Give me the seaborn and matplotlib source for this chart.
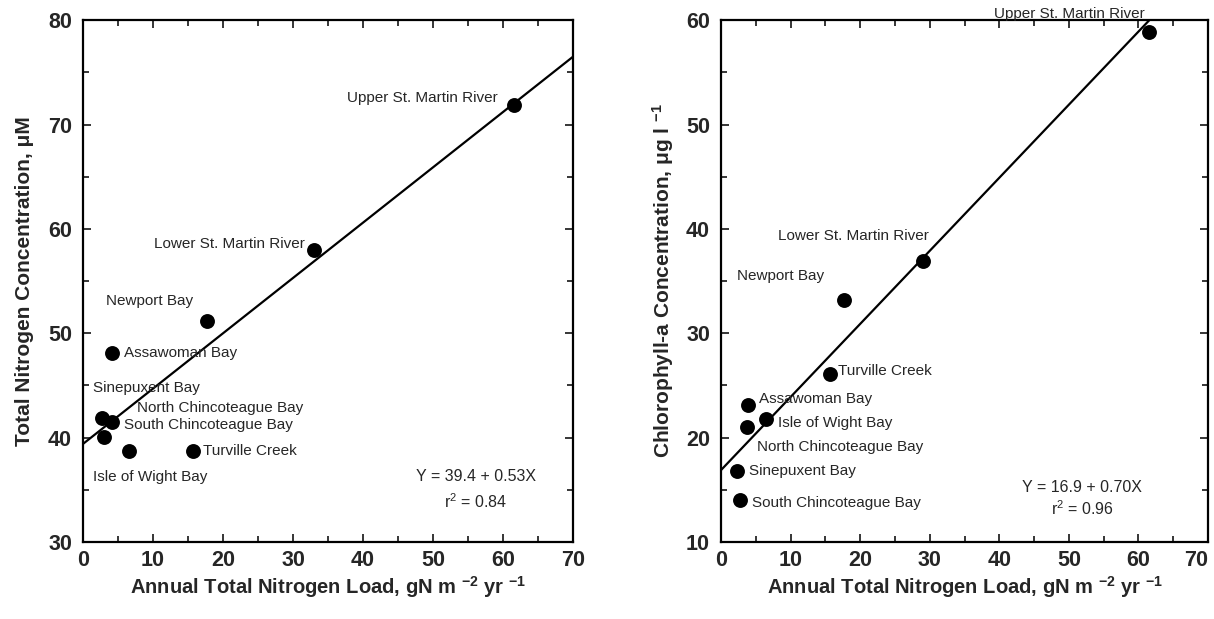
import numpy as np
import pandas as pd
import matplotlib
matplotlib.use("Agg")
import matplotlib.pyplot as plt
from matplotlib.ticker import MultipleLocator
import seaborn as sns

sns.set_style("ticks")
plt.rcParams['font.family'] = ['Liberation Sans', 'DejaVu Sans']
plt.rcParams['mathtext.fontset'] = 'custom'
plt.rcParams['mathtext.rm'] = 'Liberation Sans'
plt.rcParams['mathtext.bf'] = 'Liberation Sans:bold'
plt.rcParams['mathtext.default'] = 'rm'

# left panel: total nitrogen
tn_sites = ['Upper St. Martin River', 'Lower St. Martin River', 'Newport Bay',
            'Assawoman Bay', 'Sinepuxent Bay', 'South Chincoteague Bay',
            'North Chincoteague Bay', 'Isle of Wight Bay', 'Turville Creek']
tn_load = [61.5, 33.0, 17.7, 4.1, 2.7, 4.1, 3.0, 6.6, 15.7]
tn_conc = [71.9, 58.0, 51.2, 48.1, 41.9, 41.5, 40.1, 38.7, 38.7]
tn_fit = (39.4, 0.53)

# right panel: chlorophyll-a
chl_sites = ['Upper St. Martin River', 'Lower St. Martin River', 'Newport Bay',
             'Turville Creek', 'Assawoman Bay', 'Isle of Wight Bay',
             'North Chincoteague Bay', 'Sinepuxent Bay', 'South Chincoteague Bay']
chl_load = [61.5, 29.0, 17.6, 15.6, 3.9, 6.5, 3.7, 2.3, 2.7]
chl_conc = [58.9, 36.9, 33.2, 26.1, 23.1, 21.8, 21.0, 16.8, 14.0]
chl_fit = (16.9, 0.70)

x_ticks = [0, 10, 20, 30, 40, 50, 60, 70]

# label placement (data coords) for each panel
tn_labels = {
    'Upper St. Martin River': (59.2, 72.5, 'right'),
    'Lower St. Martin River': (31.7, 58.6, 'right'),
    'Newport Bay': (3.3, 53.1, 'left'),
    'Assawoman Bay': (5.9, 48.1, 'left'),
    'Sinepuxent Bay': (1.4, 44.8, 'left'),
    'North Chincoteague Bay': (7.7, 42.8, 'left'),
    'South Chincoteague Bay': (5.9, 41.2, 'left'),
    'Turville Creek': (17.1, 38.7, 'left'),
    'Isle of Wight Bay': (1.4, 36.2, 'left'),
}
chl_labels = {
    'Upper St. Martin River': (60.9, 60.6, 'right'),
    'Lower St. Martin River': (19.0, 39.3, 'center'),
    'Newport Bay': (2.3, 35.5, 'left'),
    'Turville Creek': (16.8, 26.4, 'left'),
    'Assawoman Bay': (5.5, 23.7, 'left'),
    'Isle of Wight Bay': (8.2, 21.4, 'left'),
    'North Chincoteague Bay': (5.2, 19.1, 'left'),
    'Sinepuxent Bay': (4.0, 16.8, 'left'),
    'South Chincoteague Bay': (4.5, 13.7, 'left'),
}

xlab = r'Annual Total Nitrogen Load, gN m $^{\mathbf{-2}}$ yr $^{\mathbf{-1}}$'

fig = plt.figure(figsize=(12.14, 6.19), dpi=100)
ax1 = fig.add_axes([0.0684, 0.1244, 0.4036, 0.843])
ax2 = fig.add_axes([0.594, 0.1244, 0.401, 0.843])


def panel(ax, load, conc, sites, fit, labels, ylim, ylabel, eq, r2, eqpos, ypad):
    df = pd.DataFrame({'load': load, 'conc': conc, 'site': sites})
    sns.scatterplot(data=df, x='load', y='conc', ax=ax, color='black',
                    s=115, edgecolor='black', linewidth=0, zorder=3)
    xs = np.array([0, 70])
    sns.lineplot(x=xs, y=fit[0] + fit[1] * xs, ax=ax, color='black', lw=1.6)
    for s in sites:
        tx, ty, ha = labels[s]
        ax.text(tx, ty, s, ha=ha, va='center', fontsize=11)
    ax.text(eqpos[0], eqpos[1], eq, ha='center', va='center', fontsize=11.5)
    ax.text(eqpos[0], eqpos[2], r2, ha='center', va='center', fontsize=11.5)
    ax.set_xlim(0, 70)
    ax.set_ylim(*ylim)
    ax.set_xticks(x_ticks)
    ax.xaxis.set_minor_locator(MultipleLocator(5))
    ax.yaxis.set_major_locator(MultipleLocator(10))
    ax.yaxis.set_minor_locator(MultipleLocator(5))
    ax.tick_params(which='both', direction='in', top=True, right=True,
                   width=1.3, labelsize=15.5)
    ax.tick_params(which='major', length=6)
    ax.tick_params(axis='x', which='major', pad=6)
    ax.tick_params(axis='y', which='major', pad=8)
    ax.tick_params(which='minor', length=4)
    for lab in ax.get_xticklabels() + ax.get_yticklabels():
        lab.set_fontweight('bold')
    for sp in ax.spines.values():
        sp.set_linewidth(1.6)
        sp.set_color('black')
    ax.set_xlabel(xlab, fontsize=14.5, fontweight='bold', labelpad=2)
    ax.set_ylabel(ylabel, fontsize=15, fontweight='bold', labelpad=ypad)


panel(ax1, tn_load, tn_conc, tn_sites, tn_fit, tn_labels, (30, 80),
      'Total Nitrogen Concentration, μM', 'Y = 39.4 + 0.53X', 'r$^2$ = 0.84',
      (56.1, 36.3, 33.9), 10)
panel(ax2, chl_load, chl_conc, chl_sites, chl_fit, chl_labels, (10, 60),
      r'Chlorophyll-a Concentration, μg l $^{\mathbf{-1}}$', 'Y = 16.9 + 0.70X',
      'r$^2$ = 0.96', (51.9, 15.2, 13.2), 7.5)

# keep the last x tick label of the right panel inside the figure
ax2.get_xticklabels()[-1].set_horizontalalignment('right')
ax2.get_xticklabels()[-1].set_x(70.6)

fig.savefig('out.png', dpi=100)
